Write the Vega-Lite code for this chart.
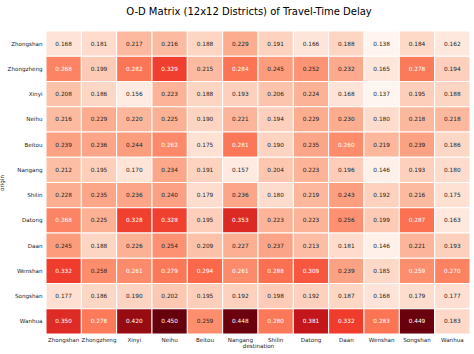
{
  "$schema": "https://vega.github.io/schema/vega-lite/v6.json",
  "autosize": "none",
  "width": 424,
  "height": 303,
  "padding": {"left": 46, "top": 31, "right": 4, "bottom": 20},
  "background": "white",
  "config": {"view": {"stroke": null}, "font": "DejaVu Sans"},
  "title": {"text": "O-D Matrix (12x12 Districts) of Travel-Time Delay", "fontSize": 10, "fontWeight": "normal", "font": "DejaVu Sans", "color": "black", "anchor": "middle", "offset": 14, "dx": -9},
  "datasets": {
    "m": [
      {"origin":"Zhongshan","destination":"Zhongshan","value":0.168},{"origin":"Zhongshan","destination":"Zhongzheng","value":0.181},{"origin":"Zhongshan","destination":"Xinyi","value":0.217},{"origin":"Zhongshan","destination":"Neihu","value":0.216},{"origin":"Zhongshan","destination":"Beitou","value":0.188},{"origin":"Zhongshan","destination":"Nangang","value":0.229},{"origin":"Zhongshan","destination":"Shilin","value":0.191},{"origin":"Zhongshan","destination":"Datong","value":0.166},{"origin":"Zhongshan","destination":"Daan","value":0.188},{"origin":"Zhongshan","destination":"Wenshan","value":0.138},{"origin":"Zhongshan","destination":"Songshan","value":0.184},{"origin":"Zhongshan","destination":"Wanhua","value":0.162},
      {"origin":"Zhongzheng","destination":"Zhongshan","value":0.268},{"origin":"Zhongzheng","destination":"Zhongzheng","value":0.199},{"origin":"Zhongzheng","destination":"Xinyi","value":0.282},{"origin":"Zhongzheng","destination":"Neihu","value":0.329},{"origin":"Zhongzheng","destination":"Beitou","value":0.215},{"origin":"Zhongzheng","destination":"Nangang","value":0.284},{"origin":"Zhongzheng","destination":"Shilin","value":0.245},{"origin":"Zhongzheng","destination":"Datong","value":0.252},{"origin":"Zhongzheng","destination":"Daan","value":0.232},{"origin":"Zhongzheng","destination":"Wenshan","value":0.165},{"origin":"Zhongzheng","destination":"Songshan","value":0.278},{"origin":"Zhongzheng","destination":"Wanhua","value":0.194},
      {"origin":"Xinyi","destination":"Zhongshan","value":0.208},{"origin":"Xinyi","destination":"Zhongzheng","value":0.186},{"origin":"Xinyi","destination":"Xinyi","value":0.156},{"origin":"Xinyi","destination":"Neihu","value":0.223},{"origin":"Xinyi","destination":"Beitou","value":0.188},{"origin":"Xinyi","destination":"Nangang","value":0.193},{"origin":"Xinyi","destination":"Shilin","value":0.206},{"origin":"Xinyi","destination":"Datong","value":0.224},{"origin":"Xinyi","destination":"Daan","value":0.168},{"origin":"Xinyi","destination":"Wenshan","value":0.137},{"origin":"Xinyi","destination":"Songshan","value":0.195},{"origin":"Xinyi","destination":"Wanhua","value":0.188},
      {"origin":"Neihu","destination":"Zhongshan","value":0.216},{"origin":"Neihu","destination":"Zhongzheng","value":0.229},{"origin":"Neihu","destination":"Xinyi","value":0.220},{"origin":"Neihu","destination":"Neihu","value":0.225},{"origin":"Neihu","destination":"Beitou","value":0.190},{"origin":"Neihu","destination":"Nangang","value":0.221},{"origin":"Neihu","destination":"Shilin","value":0.194},{"origin":"Neihu","destination":"Datong","value":0.229},{"origin":"Neihu","destination":"Daan","value":0.230},{"origin":"Neihu","destination":"Wenshan","value":0.180},{"origin":"Neihu","destination":"Songshan","value":0.218},{"origin":"Neihu","destination":"Wanhua","value":0.218},
      {"origin":"Beitou","destination":"Zhongshan","value":0.239},{"origin":"Beitou","destination":"Zhongzheng","value":0.236},{"origin":"Beitou","destination":"Xinyi","value":0.244},{"origin":"Beitou","destination":"Neihu","value":0.262},{"origin":"Beitou","destination":"Beitou","value":0.175},{"origin":"Beitou","destination":"Nangang","value":0.281},{"origin":"Beitou","destination":"Shilin","value":0.190},{"origin":"Beitou","destination":"Datong","value":0.235},{"origin":"Beitou","destination":"Daan","value":0.260},{"origin":"Beitou","destination":"Wenshan","value":0.219},{"origin":"Beitou","destination":"Songshan","value":0.239},{"origin":"Beitou","destination":"Wanhua","value":0.186},
      {"origin":"Nangang","destination":"Zhongshan","value":0.212},{"origin":"Nangang","destination":"Zhongzheng","value":0.195},{"origin":"Nangang","destination":"Xinyi","value":0.170},{"origin":"Nangang","destination":"Neihu","value":0.234},{"origin":"Nangang","destination":"Beitou","value":0.191},{"origin":"Nangang","destination":"Nangang","value":0.157},{"origin":"Nangang","destination":"Shilin","value":0.204},{"origin":"Nangang","destination":"Datong","value":0.223},{"origin":"Nangang","destination":"Daan","value":0.196},{"origin":"Nangang","destination":"Wenshan","value":0.146},{"origin":"Nangang","destination":"Songshan","value":0.193},{"origin":"Nangang","destination":"Wanhua","value":0.180},
      {"origin":"Shilin","destination":"Zhongshan","value":0.228},{"origin":"Shilin","destination":"Zhongzheng","value":0.235},{"origin":"Shilin","destination":"Xinyi","value":0.236},{"origin":"Shilin","destination":"Neihu","value":0.240},{"origin":"Shilin","destination":"Beitou","value":0.179},{"origin":"Shilin","destination":"Nangang","value":0.236},{"origin":"Shilin","destination":"Shilin","value":0.180},{"origin":"Shilin","destination":"Datong","value":0.219},{"origin":"Shilin","destination":"Daan","value":0.243},{"origin":"Shilin","destination":"Wenshan","value":0.192},{"origin":"Shilin","destination":"Songshan","value":0.216},{"origin":"Shilin","destination":"Wanhua","value":0.175},
      {"origin":"Datong","destination":"Zhongshan","value":0.268},{"origin":"Datong","destination":"Zhongzheng","value":0.225},{"origin":"Datong","destination":"Xinyi","value":0.328},{"origin":"Datong","destination":"Neihu","value":0.328},{"origin":"Datong","destination":"Beitou","value":0.195},{"origin":"Datong","destination":"Nangang","value":0.353},{"origin":"Datong","destination":"Shilin","value":0.223},{"origin":"Datong","destination":"Datong","value":0.223},{"origin":"Datong","destination":"Daan","value":0.256},{"origin":"Datong","destination":"Wenshan","value":0.199},{"origin":"Datong","destination":"Songshan","value":0.287},{"origin":"Datong","destination":"Wanhua","value":0.163},
      {"origin":"Daan","destination":"Zhongshan","value":0.245},{"origin":"Daan","destination":"Zhongzheng","value":0.188},{"origin":"Daan","destination":"Xinyi","value":0.226},{"origin":"Daan","destination":"Neihu","value":0.254},{"origin":"Daan","destination":"Beitou","value":0.209},{"origin":"Daan","destination":"Nangang","value":0.227},{"origin":"Daan","destination":"Shilin","value":0.237},{"origin":"Daan","destination":"Datong","value":0.213},{"origin":"Daan","destination":"Daan","value":0.181},{"origin":"Daan","destination":"Wenshan","value":0.146},{"origin":"Daan","destination":"Songshan","value":0.221},{"origin":"Daan","destination":"Wanhua","value":0.193},
      {"origin":"Wenshan","destination":"Zhongshan","value":0.332},{"origin":"Wenshan","destination":"Zhongzheng","value":0.258},{"origin":"Wenshan","destination":"Xinyi","value":0.261},{"origin":"Wenshan","destination":"Neihu","value":0.279},{"origin":"Wenshan","destination":"Beitou","value":0.294},{"origin":"Wenshan","destination":"Nangang","value":0.261},{"origin":"Wenshan","destination":"Shilin","value":0.288},{"origin":"Wenshan","destination":"Datong","value":0.309},{"origin":"Wenshan","destination":"Daan","value":0.239},{"origin":"Wenshan","destination":"Wenshan","value":0.185},{"origin":"Wenshan","destination":"Songshan","value":0.2591},{"origin":"Wenshan","destination":"Wanhua","value":0.270},
      {"origin":"Songshan","destination":"Zhongshan","value":0.177},{"origin":"Songshan","destination":"Zhongzheng","value":0.186},{"origin":"Songshan","destination":"Xinyi","value":0.190},{"origin":"Songshan","destination":"Neihu","value":0.202},{"origin":"Songshan","destination":"Beitou","value":0.195},{"origin":"Songshan","destination":"Nangang","value":0.192},{"origin":"Songshan","destination":"Shilin","value":0.198},{"origin":"Songshan","destination":"Datong","value":0.192},{"origin":"Songshan","destination":"Daan","value":0.187},{"origin":"Songshan","destination":"Wenshan","value":0.168},{"origin":"Songshan","destination":"Songshan","value":0.179},{"origin":"Songshan","destination":"Wanhua","value":0.177},
      {"origin":"Wanhua","destination":"Zhongshan","value":0.350},{"origin":"Wanhua","destination":"Zhongzheng","value":0.278},{"origin":"Wanhua","destination":"Xinyi","value":0.420},{"origin":"Wanhua","destination":"Neihu","value":0.450},{"origin":"Wanhua","destination":"Beitou","value":0.2589},{"origin":"Wanhua","destination":"Nangang","value":0.448},{"origin":"Wanhua","destination":"Shilin","value":0.280},{"origin":"Wanhua","destination":"Datong","value":0.381},{"origin":"Wanhua","destination":"Daan","value":0.332},{"origin":"Wanhua","destination":"Wenshan","value":0.283},{"origin":"Wanhua","destination":"Songshan","value":0.449},{"origin":"Wanhua","destination":"Wanhua","value":0.183}
    ]
  },
  "data": {"name": "m"},
  "encoding": {
    "x": {"field": "destination", "type": "nominal",
      "sort": ["Zhongshan","Zhongzheng","Xinyi","Neihu","Beitou","Nangang","Shilin","Datong","Daan","Wenshan","Songshan","Wanhua"],
      "scale": {"paddingInner": 0, "paddingOuter": 0},
      "axis": {"labelAngle": 0, "labelFontSize": 5.6, "labelColor": "#222", "title": "destination", "titleFontSize": 5.6, "titleFontWeight": "normal", "titleColor": "#222", "titlePadding": 1, "labelPadding": 3, "ticks": false, "domain": false, "grid": false}},
    "y": {"field": "origin", "type": "nominal",
      "sort": ["Zhongshan","Zhongzheng","Xinyi","Neihu","Beitou","Nangang","Shilin","Datong","Daan","Wenshan","Songshan","Wanhua"],
      "scale": {"paddingInner": 0, "paddingOuter": 0},
      "axis": {"labelFontSize": 5.6, "labelColor": "#222", "title": "origin", "titleFontSize": 5.6, "titleFontWeight": "normal", "titleColor": "#222", "titlePadding": 3, "labelPadding": 4, "ticks": false, "domain": false, "grid": false}}
  },
  "layer": [
    {
      "mark": {"type": "rect", "stroke": "white", "strokeWidth": 1},
      "encoding": {
        "color": {"field": "value", "type": "quantitative",
          "scale": {"domain": [0.137, 0.176125, 0.21525, 0.254375, 0.2935, 0.332625, 0.37175, 0.410875, 0.45],
                    "range": ["#fff5f0", "#fee0d2", "#fcbba1", "#fc9272", "#fb6a4a", "#ef3b2c", "#cb181d", "#a50f15", "#67000d"],
                    "interpolate": "rgb"},
          "legend": null}
      }
    },
    {
      "mark": {"type": "text", "fontSize": 5.8, "font": "DejaVu Sans"},
      "encoding": {
        "text": {"field": "value", "type": "quantitative", "format": ".3f"},
        "color": {"condition": {"test": "datum.value > 0.259", "value": "white"}, "value": "#262626"}
      }
    }
  ]
}
